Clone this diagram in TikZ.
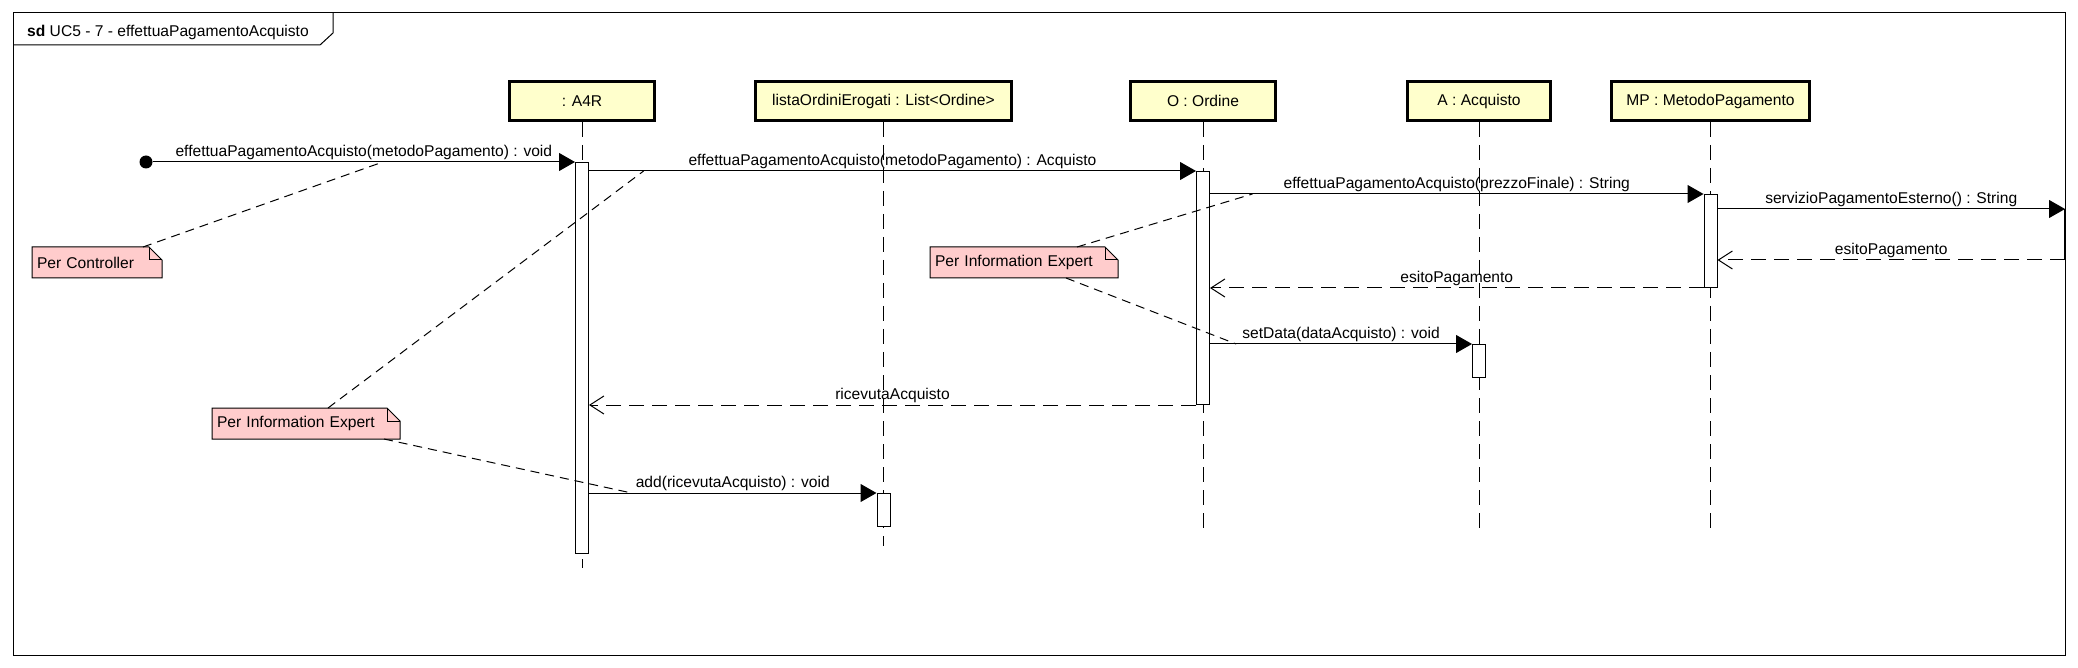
\documentclass[tikz,border=0pt]{standalone}
\usepackage{fontspec}
\setmainfont{Liberation Sans}
\usetikzlibrary{arrows.meta,positioning,backgrounds}
\definecolor{headyellow}{HTML}{FFFFCC}
\definecolor{notepink}{HTML}{FFCCCC}

\begin{document}
\begin{tikzpicture}[
  x=1pt, y=-1pt,
  font=\fontsize{15.6}{18}\selectfont,
  lifehead/.style={draw=black, line width=3pt, fill=headyellow,
    minimum height=39pt, inner sep=0pt},
  lifeline/.style={line width=1pt, dash pattern=on 15pt off 8pt},
  activation/.style={draw=black, line width=1pt, fill=white,
    minimum width=13pt, inner sep=0pt, anchor=north},
  call/.style={-{Triangle[length=16pt, width=18pt]}, line width=1pt},
  reply/.style={-{Straight Barb[length=14pt, width=18pt]}, line width=1pt,
    dash pattern=on 15pt off 8pt},
  msg/.style={midway, anchor=base, yshift=5.5pt, inner sep=0pt},
  notebox/.style={anchor=north west, text width=#1, inner xsep=5pt,
    inner ysep=0pt, outer sep=0pt, minimum height=31pt, align=left},
  notebody/.style={draw=black, line width=1pt, fill=notepink},
  notelink/.style={line width=1pt, dash pattern=on 9pt off 6pt}
]
  \useasboundingbox (0,0) rectangle (2078,668);

  % frame
  \draw[line width=1pt] (13,13) rectangle (2065,655);
  \draw[line width=1pt] (13,45) -- (320,45) -- (333,33) -- (333,13);
  \node[anchor=base west, inner sep=0pt] (title) at (27,37)
    {\textbf{sd} UC5 - 7 - effettuaPagamentoAcquisto};

  % lifelines
  \node[lifehead, minimum width=145pt, anchor=north] (a4r) at (582,80) {: A4R};
  \node[lifehead, minimum width=256pt, right=98pt of a4r] (lista) {listaOrdiniErogati : List<Ordine>};
  \node[lifehead, minimum width=145pt, right=116pt of lista] (ordine) {O : Ordine};
  \node[lifehead, minimum width=143pt, right=129pt of ordine] (acquisto) {A : Acquisto};
  \node[lifehead, minimum width=198pt, right=58pt of acquisto] (metodo) {MP : MetodoPagamento};

  \foreach \who/\stop in {a4r/568, lista/546, ordine/530, acquisto/530, metodo/530}
    \draw[lifeline] (\who.south) -- (\who.south |- 0,\stop);

  \node[activation, minimum height=391pt] (actA) at (a4r.south |- 0,162) {};
  \node[activation, minimum height=233pt] (actO) at (ordine.south |- 0,171) {};
  \node[activation, minimum height=93pt] (actM) at (metodo.south |- 0,194) {};
  \node[activation, minimum height=33pt] (actAc) at (acquisto.south |- 0,344) {};
  \node[activation, minimum height=33pt] (actL) at (lista.south |- 0,493) {};

  % messages
  \node[circle, fill=black, minimum size=13pt, inner sep=0pt] (start) at (146,162) {};
  \coordinate (gateout) at (2065,209);
  \coordinate (gatein) at (2065,260);

  \draw[call] (start) -- (actA.north west)
    node[msg] {effettuaPagamentoAcquisto(metodoPagamento) : void}
    coordinate[pos=0.545] (pinA);
  \draw[call] (actA.east |- actO.north) -- (actO.north west)
    node[msg] {effettuaPagamentoAcquisto(metodoPagamento) : Acquisto}
    coordinate[pos=0.09] (pinB);
  \draw[call] (actO.east |- actM.north) -- (actM.north west)
    node[msg] {effettuaPagamentoAcquisto(prezzoFinale) : String}
    coordinate[pos=0.086] (pinC);
  \draw[call] (actM.east |- gateout) -- (gateout)
    node[msg] {servizioPagamentoEsterno() : String};
  \draw[line width=2.5pt] (gateout) -- (gatein);
  \draw[reply] (gatein) -- (actM.east |- gatein) node[msg] {esitoPagamento};
  \draw[reply] (actM.south west) -- (actO.east |- actM.south) node[msg] {esitoPagamento};
  \draw[call] (actO.east |- actAc.north) -- (actAc.north west)
    node[msg] {setData(dataAcquisto) : void}
    coordinate[pos=0.10] (pinD);
  \draw[reply] (actO.south west) -- (actA.east |- actO.south) node[msg] {ricevutaAcquisto};
  \draw[call] (actA.east |- actL.north) -- (actL.north west)
    node[msg] {add(ricevutaAcquisto) : void}
    coordinate[pos=0.148] (pinE);

  % notes
  \node[notebox=120pt] (ctrl) at (32,247) {Per Controller};
  \node[notebox=178pt] (expertA) at (212,408) {Per Information Expert};
  \node[notebox=178pt] (expertB) at (930,247) {Per Information Expert};
  \begin{pgfonlayer}{background}
    \foreach \n in {ctrl, expertA, expertB}
      \filldraw[notebody] (\n.south west) -- (\n.north west) -- ([xshift=-13pt]\n.north east)
        -- ([yshift=-13pt]\n.north east) -- (\n.south east) -- cycle;
  \end{pgfonlayer}
  \foreach \n in {ctrl, expertA, expertB}
    \draw[line width=1pt] ([xshift=-13pt]\n.north east) |- ([yshift=-13pt]\n.north east);

  \draw[notelink] ([xshift=-19pt]ctrl.north east) -- (pinA);
  \draw[notelink] ([xshift=-72pt]expertA.north east) -- (pinB);
  \draw[notelink] ([xshift=-16pt]expertA.south east) -- (pinE);
  \draw[notelink] ([xshift=-41pt]expertB.north east) -- (pinC);
  \draw[notelink] ([xshift=-52pt]expertB.south east) -- (pinD);
\end{tikzpicture}
\end{document}
